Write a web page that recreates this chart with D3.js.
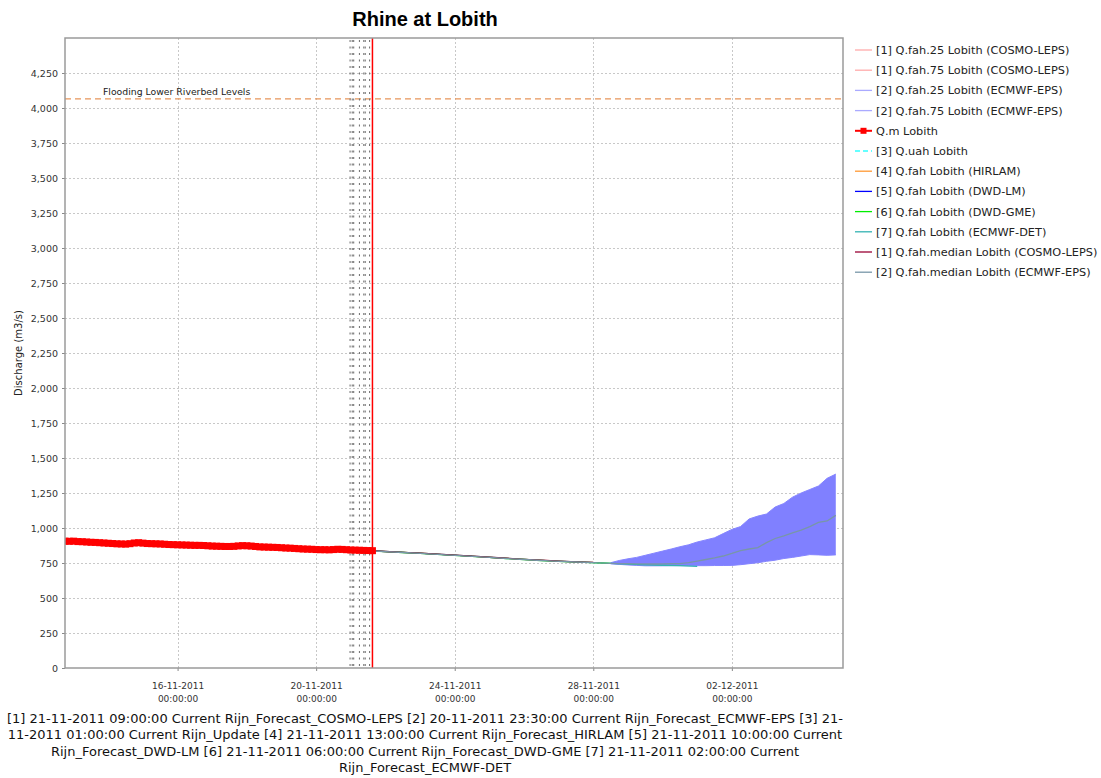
<!DOCTYPE html>
<html>
<head>
<meta charset="utf-8">
<script src="https://cdn.jsdelivr.net/npm/d3@7"></script>
<style>
  body { margin: 0; background: #fff; }
  svg { display: block; }
  text { font-family: "DejaVu Sans", sans-serif; fill: #222; }
</style>
</head>
<body>
<svg id="chart" width="1101" height="778"></svg>
<script>
const parse = d3.timeParse("%Y-%m-%d %H:%M");

// ---- Data ----------------------------------------------------------------
const chartTitle = "Rhine at Lobith";
const yLabel = "Discharge (m3/s)";
const timeDomain = ["2011-11-12 18:00", "2011-12-05 05:00"];
const yMax = 4500;
const yTicks = [0, 250, 500, 750, 1000, 1250, 1500, 1750, 2000, 2250, 2500, 2750,
                3000, 3250, 3500, 3750, 4000, 4250];
const xTicks = ["2011-11-16 00:00", "2011-11-20 00:00", "2011-11-24 00:00",
                "2011-11-28 00:00", "2011-12-02 00:00"];

const floodLevel = 4065;
const floodLabel = "Flooding Lower Riverbed Levels";
const currentTime = "2011-11-21 15:00";
const issueTimes = ["2011-11-20 23:30", "2011-11-21 01:00", "2011-11-21 02:00",
                    "2011-11-21 06:00", "2011-11-21 09:00", "2011-11-21 10:00",
                    "2011-11-21 13:00"];

// Observed Q.m Lobith, 3-hourly
const obsStart = "2011-11-12 18:00";
const obsStep = 3;
const obsValues = [
  906, 905, 906, 903, 902, 900, 898, 897, 895, 893,
  891, 889, 887, 886, 885, 888, 893, 895, 892, 889,
  888, 887, 886, 884, 882, 881, 880, 879, 878, 877,
  876, 876, 875, 873, 871, 870, 869, 868, 868, 869,
  872, 874, 873, 871, 868, 865, 864, 863, 862, 861,
  859, 857, 856, 854, 852, 850, 849, 848, 846, 845,
  845, 844, 846, 848, 847, 845, 843, 842, 841, 840,
  839, 838
];

// Update run Q.uah, 6-hourly
const uahStart = "2011-11-21 00:00";
const uahValues = [842, 840, 839, 838];

// Deterministic forecasts, 12-hourly from 21-11-2011 12:00
const fcStart = "2011-11-21 12:00";
const fcStep = 12;
const hirlamValues = [839, 833, 827, 821, 814];
const dwdLmValues = [838, 832, 826, 819, 812, 805, 799];
const dwdGmeValues = [837, 831, 825, 819, 812, 805, 798, 790, 782, 775, 768, 762, 757, 752, 748];
const ecmwfDetValues = [838, 832, 826, 820, 813, 806, 799, 791, 783, 776, 769, 763, 758, 753,
                        748, 742, 737, 734, 731, 726];
const cosmoMedianValues = [838, 832, 826, 820, 813, 806, 799, 791, 784, 776, 770, 764, 758, 754];
const cosmoQ25Values = [837, 831, 825, 819, 812, 805, 798, 790, 783, 775, 769, 763, 757, 753];
const cosmoQ75Values = [839, 833, 827, 821, 814, 807, 800, 792, 785, 777, 771, 765, 759, 755];
const ecmwfMedianEarly = [837, 831, 825, 819, 812, 805, 798, 790, 782, 775, 768, 762, 757, 752];

// ECMWF-EPS ensemble, 6-hourly from 28-11-2011 12:00
const epsStart = "2011-11-28 12:00";
const epsStep = 6;
const epsQ75 = [752, 768, 780, 790, 805, 820, 835, 850, 866, 880,
                900, 915, 930, 960, 990, 1010, 1065, 1085, 1100, 1150,
                1175, 1220, 1250, 1275, 1300, 1355, 1385];
const epsQ25 = [744, 740, 736, 733, 730, 730, 730, 731, 731, 731,
                731, 731, 732, 732, 733, 738, 745, 752, 762, 770,
                782, 790, 800, 810, 808, 805, 808];
const epsMedian = [748, 746, 745, 744, 744, 743, 744, 745, 746, 752,
                   763, 775, 786, 800, 818, 838, 850, 860, 895, 925,
                   944, 965, 985, 1010, 1040, 1050, 1090];

const legendLabels = [
  "[1] Q.fah.25 Lobith (COSMO-LEPS)",
  "[1] Q.fah.75 Lobith (COSMO-LEPS)",
  "[2] Q.fah.25 Lobith (ECMWF-EPS)",
  "[2] Q.fah.75 Lobith (ECMWF-EPS)",
  "Q.m Lobith",
  "[3] Q.uah Lobith",
  "[4] Q.fah Lobith (HIRLAM)",
  "[5] Q.fah Lobith (DWD-LM)",
  "[6] Q.fah Lobith (DWD-GME)",
  "[7] Q.fah Lobith (ECMWF-DET)",
  "[1] Q.fah.median Lobith (COSMO-LEPS)",
  "[2] Q.fah.median Lobith (ECMWF-EPS)"
];
const legendColors = ["#ffaaaa", "#ffaaaa", "#aaaaff", "#aaaaff", "#ff0000", "#33ffff",
                      "#ff9933", "#0000ff", "#00ee00", "#33b3b3", "#990033", "#7896a8"];

const footnoteLines = [
  "[1] 21-11-2011 09:00:00 Current Rijn_Forecast_COSMO-LEPS [2] 20-11-2011 23:30:00 Current Rijn_Forecast_ECMWF-EPS [3] 21-",
  "11-2011 01:00:00 Current Rijn_Update [4] 21-11-2011 13:00:00 Current Rijn_Forecast_HIRLAM [5] 21-11-2011 10:00:00 Current",
  "Rijn_Forecast_DWD-LM [6] 21-11-2011 06:00:00 Current Rijn_Forecast_DWD-GME [7] 21-11-2011 02:00:00 Current",
  "Rijn_Forecast_ECMWF-DET"
];

// ---- Helpers ---------------------------------------------------------------
function series(start, stepHours, values) {
  const t0 = parse(start);
  return values.map((v, i) => ({ t: d3.timeHour.offset(t0, i * stepHours), v }));
}

// ---- Layout ----------------------------------------------------------------
const plot = { left: 65, right: 843, top: 38, bottom: 668 };
const svg = d3.select("#chart");

const x = d3.scaleTime().domain(timeDomain.map(parse)).range([plot.left, plot.right]);
const y = d3.scaleLinear().domain([0, yMax]).range([plot.bottom, plot.top]);

svg.append("defs").append("clipPath").attr("id", "plotClip")
  .append("rect")
  .attr("x", plot.left).attr("y", plot.top)
  .attr("width", plot.right - plot.left).attr("height", plot.bottom - plot.top);

// Title
svg.append("text")
  .attr("x", 425).attr("y", 26)
  .attr("text-anchor", "middle")
  .style("font-family", "'Liberation Sans', Arial, sans-serif")
  .style("font-weight", "bold").style("font-size", "20px").style("fill", "#000")
  .text(chartTitle);

// Grid
const grid = svg.append("g");
grid.selectAll("line.h").data(yTicks.filter(d => d > 0)).join("line")
  .attr("x1", plot.left).attr("x2", plot.right)
  .attr("y1", d => y(d) + 0.5).attr("y2", d => y(d) + 0.5)
  .attr("stroke", "#c8c8c8").attr("stroke-dasharray", "2,2");
grid.selectAll("line.v").data(xTicks.map(parse)).join("line")
  .attr("y1", plot.top).attr("y2", plot.bottom)
  .attr("x1", d => Math.round(x(d)) + 0.5).attr("x2", d => Math.round(x(d)) + 0.5)
  .attr("stroke", "#c8c8c8").attr("stroke-dasharray", "2,2");

// Axes
const yAxis = d3.axisLeft(y).tickValues(yTicks).tickSize(3).tickPadding(4)
  .tickFormat(d3.format(","));
const gy = svg.append("g").attr("transform", `translate(${plot.left},0)`).call(yAxis);
gy.select(".domain").remove();
gy.selectAll("line").attr("stroke", "#888");
gy.selectAll("text").style("font-size", "9.5px").style("fill", "#333");

const xAxis = d3.axisBottom(x).tickValues(xTicks.map(parse)).tickSize(3).tickFormat("");
const gx = svg.append("g").attr("transform", `translate(0,${plot.bottom})`).call(xAxis);
gx.select(".domain").remove();
gx.selectAll("line").attr("stroke", "#888");
const fmtDate = d3.timeFormat("%d-%m-%Y"), fmtTime = d3.timeFormat("%H:%M:%S");
gx.selectAll(".tick").append("text")
  .attr("y", 21).attr("text-anchor", "middle")
  .style("font-size", "9px").style("fill", "#333")
  .text(d => fmtDate(d));
gx.selectAll(".tick").append("text")
  .attr("y", 34).attr("text-anchor", "middle")
  .style("font-size", "9px").style("fill", "#333")
  .text(d => fmtTime(d));

// Y axis title
svg.append("text")
  .attr("transform", `translate(22,${(plot.top + plot.bottom) / 2}) rotate(-90)`)
  .attr("text-anchor", "middle")
  .style("font-size", "10px").style("fill", "#222")
  .text(yLabel);

// Plot content
const g = svg.append("g").attr("clip-path", "url(#plotClip)");

// Flood threshold
g.append("line")
  .attr("x1", plot.left).attr("x2", plot.right)
  .attr("y1", y(floodLevel)).attr("y2", y(floodLevel))
  .attr("stroke", "#e8955a").attr("stroke-width", 1.2).attr("stroke-dasharray", "6,4");
svg.append("text")
  .attr("x", 103).attr("y", y(floodLevel) - 4)
  .style("font-size", "9.3px").style("fill", "#222")
  .text(floodLabel);

// Forecast issue time markers
g.selectAll("line.issue").data(issueTimes.map(parse)).join("line")
  .attr("x1", d => x(d)).attr("x2", d => x(d))
  .attr("y1", plot.top + 2).attr("y2", plot.bottom)
  .attr("stroke", "#777").attr("stroke-width", 1.1).attr("stroke-dasharray", "2,4.5");

const line = d3.line().x(d => x(d.t)).y(d => y(d.v));
function drawLine(data, color, width, dash) {
  g.append("path").datum(data)
    .attr("fill", "none").attr("stroke", color).attr("stroke-width", width)
    .attr("stroke-dasharray", dash || null)
    .attr("d", line);
}

// COSMO-LEPS quartiles
drawLine(series(fcStart, fcStep, cosmoQ25Values), legendColors[0], 1);
drawLine(series(fcStart, fcStep, cosmoQ75Values), legendColors[1], 1);

// ECMWF-EPS band between the 25% and 75% quantiles
const epsT0 = parse(epsStart);
const band = epsQ25.map((v, i) => ({ t: d3.timeHour.offset(epsT0, i * epsStep), lo: v, hi: epsQ75[i] }));
g.append("path").datum(band)
  .attr("fill", "#8080ff").attr("stroke", "none")
  .attr("d", d3.area().x(d => x(d.t)).y0(d => y(d.lo)).y1(d => y(d.hi)));
drawLine(series(epsStart, epsStep, epsQ25), "#8585ff", 1);
drawLine(series(epsStart, epsStep, epsQ75), "#8585ff", 1);

// Deterministic runs
drawLine(series(uahStart, 6, uahValues), legendColors[5], 1, "4,3");
drawLine(series(fcStart, fcStep, hirlamValues), legendColors[6], 1);
drawLine(series(fcStart, fcStep, dwdLmValues), legendColors[7], 1);
drawLine(series(fcStart, fcStep, ecmwfDetValues), legendColors[9], 1.3);
drawLine(series(fcStart, fcStep, dwdGmeValues), legendColors[8], 1.3);
drawLine(series(fcStart, fcStep, cosmoMedianValues), legendColors[10], 1.3);
drawLine(series(fcStart, fcStep, ecmwfMedianEarly)
  .concat(series(epsStart, epsStep, epsMedian)), legendColors[11], 1.3);

// Observations
const obs = series(obsStart, obsStep, obsValues);
drawLine(obs, "#ff0000", 2);
g.selectAll("rect.obs").data(obs).join("rect")
  .attr("x", d => x(d.t) - 3.5).attr("y", d => y(d.v) - 3.5)
  .attr("width", 7).attr("height", 7).attr("fill", "#ff0000");

// Current time
g.append("line")
  .attr("x1", x(parse(currentTime))).attr("x2", x(parse(currentTime)))
  .attr("y1", plot.top).attr("y2", plot.bottom)
  .attr("stroke", "#ff0000").attr("stroke-width", 1.5);

// Plot frame
svg.append("rect")
  .attr("x", plot.left).attr("y", plot.top)
  .attr("width", plot.right - plot.left).attr("height", plot.bottom - plot.top)
  .attr("fill", "none").attr("stroke", "#9a9a9a").attr("stroke-width", 1.5);

// Legend
const legend = svg.append("g").attr("transform", "translate(855,50)");
const rows = legend.selectAll("g").data(legendLabels).join("g")
  .attr("transform", (d, i) => `translate(0,${i * 20.2})`);
rows.append("line")
  .attr("x1", 0).attr("x2", 17).attr("y1", 0).attr("y2", 0)
  .attr("stroke", (d, i) => legendColors[i]).attr("stroke-width", (d, i) => i === 4 ? 2 : 1.3)
  .attr("stroke-dasharray", (d, i) => i === 5 ? "5,3" : null);
rows.filter((d, i) => i === 4).append("rect")
  .attr("x", 5.5).attr("y", -3).attr("width", 6).attr("height", 6).attr("fill", "#ff0000");
rows.append("text")
  .attr("x", 21).attr("y", 4)
  .style("font-size", "11.3px").style("fill", "#222")
  .text(d => d);

// Footnote
svg.append("g").selectAll("text").data(footnoteLines).join("text")
  .attr("x", 425).attr("y", (d, i) => 723 + i * 16.4)
  .attr("text-anchor", "middle")
  .style("font-size", "13px").style("fill", "#111")
  .text(d => d);
</script>
</body>
</html>
